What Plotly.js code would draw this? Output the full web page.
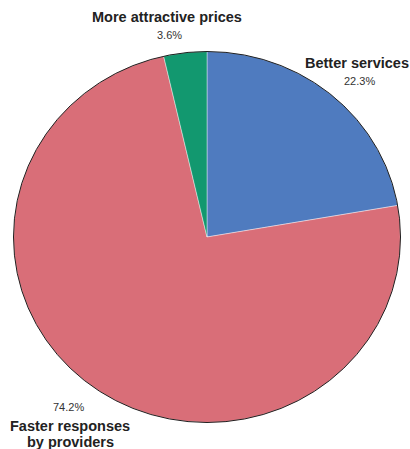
<!DOCTYPE html>
<html>
<head>
<meta charset="utf-8">
<script src="https://cdn.plot.ly/plotly-3.0.1.min.js"></script>
<style>html,body{margin:0;padding:0;background:#fff;}#chart{width:410px;height:449px;}</style>
</head>
<body>
<div id="chart"></div>
<script>
const categories = ['Better services', 'Faster responses<br>by providers', 'More attractive prices'];
const values = [22.3, 74.2, 3.6];
const pctLabels = ['22.3%', '74.2%', '3.6%'];
const colors = ['#4f7bbf', '#d96e78', '#12986f'];

// label placement (pixel positions of first label line / percentage centres)
const W = 410, H = 449;
const labelPos = [
  {lx: 357, ly: 63, px: 359, py: 81},
  {lx: 70, ly: 425.5, px: 68, py: 407},
  {lx: 167, ly: 17, px: 169, py: 35}
];
const lineStep = 16.5;

const cx = 207, cy = 237, rx = 193.5, ry = 185.5;
const domain = {
  x: [(cx - rx) / W, (cx + rx) / W],
  y: [(H - cy - rx) / H, (H - cy + rx) / H]
};

const traces = [
  {
    type: 'pie',
    labels: categories,
    values: values,
    sort: false,
    direction: 'clockwise',
    rotation: 0,
    marker: {colors: colors, line: {color: 'rgba(255,255,255,0.7)', width: 0.6}},
    textinfo: 'none',
    hoverinfo: 'label+percent',
    showlegend: false,
    domain: domain
  },
  {
    type: 'pie',
    labels: ['outline'],
    values: [1],
    sort: false,
    marker: {colors: ['rgba(0,0,0,0)'], line: {color: '#1a1a1a', width: 1}},
    textinfo: 'none',
    hoverinfo: 'skip',
    showlegend: false,
    domain: domain
  }
];

const annotations = [];
categories.forEach((c, i) => {
  const p = labelPos[i];
  c.split('<br>').forEach((line, k) => {
    annotations.push({
      text: '<b>' + line + '</b>', xref: 'paper', yref: 'paper',
      x: p.lx / W, y: 1 - (p.ly + k * lineStep) / H, xanchor: 'center', yanchor: 'middle',
      showarrow: false, font: {family: 'Liberation Sans, Arial, sans-serif', size: 14.5, color: '#222'}
    });
  });
  annotations.push({
    text: pctLabels[i], xref: 'paper', yref: 'paper',
    x: p.px / W, y: 1 - p.py / H, xanchor: 'center', yanchor: 'middle',
    showarrow: false, font: {family: 'Liberation Sans, Arial, sans-serif', size: 11, color: '#333'}
  });
});

const layout = {
  width: W, height: H,
  margin: {l: 0, r: 0, t: 0, b: 0},
  paper_bgcolor: '#fff',
  showlegend: false,
  annotations: annotations
};

Plotly.newPlot('chart', traces, layout, {displayModeBar: false, staticPlot: true}).then(() => {
  const s = ry / rx;
  const pl = document.querySelector('#chart .pielayer');
  if (pl) pl.setAttribute('transform', 'translate(0,' + (cy * (1 - s)) + ') scale(1,' + s + ')');
});
</script>
</body>
</html>
